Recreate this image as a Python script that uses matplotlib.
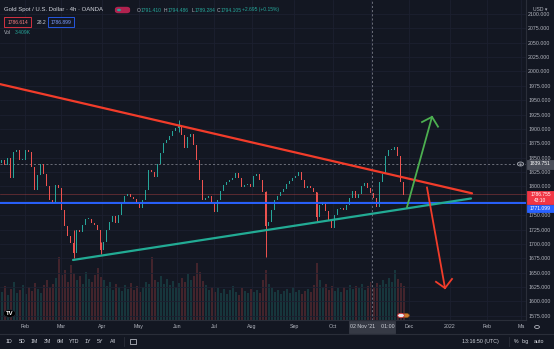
import numpy as np
import matplotlib.pyplot as plt
from matplotlib.patches import Circle, FancyBboxPatch, Rectangle

plt.rcParams['font.family'] = ['Liberation Sans', 'DejaVu Sans']

W, H = 554, 349
BG = '#131722'
UP = '#26a69a'
DOWN = '#ef5350'
TXT = '#b2b5be'

# ---- data (one candle every 3 time slots) ----
closes = [1846, 1837, 1849, 1815, 1860, 1863, 1846, 1846, 1863, 1860,
          1834, 1794, 1820, 1839, 1822, 1801, 1776, 1771, 1802, 1797,
          1759, 1731, 1714, 1702, 1684, 1724, 1721, 1733, 1743, 1743,
          1736, 1733, 1724, 1689, 1703, 1724, 1738, 1749, 1736, 1750,
          1771, 1783, 1787, 1782, 1778, 1771, 1762, 1776, 1794, 1829,
          1825, 1816, 1839, 1858, 1876, 1881, 1888, 1896, 1902, 1907,
          1890, 1867, 1886, 1891, 1872, 1846, 1811, 1776, 1780, 1783,
          1771, 1755, 1776, 1792, 1802, 1808, 1811, 1815, 1823, 1815,
          1799, 1802, 1804, 1799, 1818, 1822, 1811, 1790, 1731, 1738,
          1759, 1776, 1783, 1790, 1795, 1804, 1809, 1815, 1818, 1825,
          1811, 1797, 1801, 1797, 1790, 1747, 1768, 1773, 1757, 1742,
          1728, 1750, 1761, 1762, 1759, 1768, 1780, 1792, 1780, 1787,
          1801, 1806, 1797, 1789, 1780, 1764, 1808, 1822, 1853, 1863,
          1863, 1869, 1853, 1808, 1785]
first_open = 1840
volumes_k = [2.8, 3.4, 2.5, 3.1, 3.8, 2.7, 3.0, 3.5, 2.6, 3.3, 2.9, 3.7, 3.1, 2.7, 3.5, 4.0, 3.3,
             3.6, 4.2, 6.3, 4.5, 5.0, 3.8, 5.5, 4.7, 4.0, 4.4, 3.6, 4.8, 4.1, 3.8, 4.5, 5.2, 4.3,
             4.0, 3.4, 3.8, 3.0, 3.6, 3.3, 2.9, 3.5, 3.1, 3.7, 3.0, 3.4, 2.8, 3.3, 3.8, 3.6, 6.3,
             4.0, 3.8, 4.4, 3.6, 4.1, 3.5, 3.9, 3.3, 3.7, 4.2, 3.8, 4.6, 4.0, 4.4, 5.7, 4.8, 3.9,
             3.5, 3.0, 3.3, 2.8, 3.2, 2.7, 3.1, 2.6, 3.0, 3.4, 2.8, 2.5, 3.2, 2.9, 2.7, 3.1, 2.8,
             3.0, 2.7, 4.0, 5.0, 3.6, 3.2, 2.8, 3.0, 2.6, 2.9, 3.1, 2.7, 3.3, 2.8, 3.0, 2.6, 2.9,
             3.1, 2.8, 3.5, 5.7, 4.0, 3.3, 3.6, 3.0, 3.4, 2.9, 3.2, 2.8, 3.3, 3.0, 3.5, 3.1, 3.4,
             3.2, 3.6, 3.0, 3.4, 3.8, 3.3, 3.7, 3.5, 4.0, 3.6, 4.2, 3.8, 5.0, 4.1, 3.7, 3.4]
wick_idx = [24, 33, 59, 88, 105]
wick_low = [1676, 1682, 1895, 1677, 1740]
wick_high = [1724, 1703, 1916, 1792, 1790]

month_pos = [25, 61, 102, 139, 177, 214, 252, 294, 333, 409, 450, 487, 521]
month_lbl = ['Feb', 'Mar', 'Apr', 'May', 'Jun', 'Jul', 'Aug', 'Sep', 'Oct',
             'Dec', '2022', 'Feb', 'Ma']
nov_pos = 371
price_ticks = list(range(1575, 2101, 25))
hidden_ticks = [1775]  # covered by the price badges

red_line_x, red_line_p = [0, 472], [1978, 1788]
teal_line_x, teal_line_p = [73, 471], [1672, 1779]
up_arrow_x, up_arrow_p = [407, 432], [1764, 1921]
up_head_x, up_head_p = [422, 432, 438], [1912, 1921, 1904]
dn_arrow_x, dn_arrow_p = [427, 445], [1798, 1623]
dn_head_x, dn_head_p = [436, 445, 452], [1634, 1623, 1639]

support_level = 1771.099
last_price = 1786.755
cross_x, cross_price = 372, 1839.751


def fp(x, y):
    return x / W, 1 - y / H


fig = plt.figure(figsize=(W / 100, H / 100), dpi=100, facecolor=BG)
ax = fig.add_axes([0, 29 / H, 526 / W, 320 / H])
axv = ax.twinx()
ax.set_zorder(axv.get_zorder() + 1)
ax.patch.set_visible(False)
axv.set_ylim(0, 32)
axv.axis('off')

ax.set_xlim(0, 526)
ax.set_ylim(2100 - 306 * 1.74, 2100 + 14 * 1.74)

# grid
for xg in month_pos + [nov_pos]:
    ax.axvline(xg, color='#1c2030', lw=0.6, zorder=0)
for pg in price_ticks:
    ax.axhline(pg, color='#1c2030', lw=0.6, zorder=0)

# candles + volume
c = np.array(closes, dtype=float)
o = np.concatenate([[first_open], c[:-1]])
xs = np.arange(len(c)) * 3 + 1.5
col = [UP if cc >= oo else DOWN for oo, cc in zip(o, c)]
ax.bar(xs, np.maximum(np.abs(c - o), 1.5), bottom=np.minimum(o, c), width=1.7,
       color=col, linewidth=0, zorder=3)
ax.vlines(xs[wick_idx], wick_low, wick_high, colors=[col[i] for i in wick_idx],
          lw=0.7, zorder=3)
axv.bar(xs, volumes_k, width=2.0, color=col, alpha=0.22, linewidth=0)

# horizontal levels
ax.axhline(last_price, color=DOWN, lw=0.5, alpha=0.45, zorder=2)
ax.axhline(support_level, color='#2962ff', lw=1.4, zorder=4)
ax.axhline(cross_price, color='#787b86', lw=0.6, ls=(0, (2.5, 2.5)), zorder=2)
ax.axvline(cross_x, color='#787b86', lw=0.6, ls=(0, (2.5, 2.5)), zorder=2)

# drawings
ax.plot(red_line_x, red_line_p, color='#f23c2a', lw=1.6, zorder=5, solid_capstyle='round')
ax.plot(teal_line_x, teal_line_p, color='#22ab94', lw=1.6, zorder=5, solid_capstyle='round')
ax.plot(up_arrow_x, up_arrow_p, color='#4caf50', lw=1.3, zorder=5)
ax.plot(up_head_x, up_head_p, color='#4caf50', lw=1.3, zorder=5)
ax.plot(dn_arrow_x, dn_arrow_p, color='#f23c2a', lw=1.3, zorder=5)
ax.plot(dn_head_x, dn_head_p, color='#f23c2a', lw=1.3, zorder=5)

# axes styling
for s in ['top', 'left']:
    ax.spines[s].set_visible(False)
ax.spines['right'].set_color('#2a2e39')
ax.spines['bottom'].set_color('#2a2e39')
ax.spines['right'].set_linewidth(0.8)
ax.spines['bottom'].set_linewidth(0.8)
ax.yaxis.tick_right()
ax.set_yticks(price_ticks)
ax.set_yticklabels(['' if p in hidden_ticks else f'{p:.3f}' for p in price_ticks])
ax.set_xticks(month_pos)
ax.set_xticklabels(month_lbl)
ax.tick_params(axis='y', length=0, pad=1.5, labelsize=3.8, labelcolor=TXT)
ax.tick_params(axis='x', length=0, pad=2.6, labelsize=3.8, labelcolor=TXT)


def badge(x0, y0, x1, y1, face, lines, tcol='white', edge=None, size=3.8):
    fx0, fy0 = fp(x0, y1)
    fig.patches.append(Rectangle((fx0, fy0), (x1 - x0) / W, (y1 - y0) / H,
                                 transform=fig.transFigure, facecolor=face,
                                 edgecolor=edge or face, lw=0.6, zorder=5))
    for (tx, ty, t) in lines:
        fig.text(*fp(tx, ty), t, color=tcol, fontsize=size, ha='center',
                 va='center', zorder=6)


badge(527, 191, 554, 204, '#f23645', [(540.5, 194.6, '1786.755'), (540.5, 200.6, '43:10')],
      size=3.5)
badge(527, 204.5, 554, 212, '#2962ff', [(540.5, 208.3, '1771.099')], size=3.6)
badge(527, 159.5, 554, 168.5, '#4a4e59', [(540.5, 164, '1839.751')], size=3.6)
badge(349, 321, 395, 333, '#363a45', [(372, 327, "02 Nov '21    01:00")], tcol='#d1d4dc')
fig.patches.append(Circle(fp(520.5, 164), 3.2 / W, transform=fig.transFigure,
                          facecolor='#363a45', edgecolor='#b2b5be', lw=0.5, zorder=5))
fig.text(*fp(520.5, 164.2), '+', color='#d1d4dc', fontsize=4, ha='center', va='center', zorder=6)

# header
fig.text(*fp(4, 10), 'Gold Spot / U.S. Dollar · 4h · OANDA', color='#d1d4dc',
         fontsize=4.3, va='center')
fig.patches.append(FancyBboxPatch(fp(116, 12.5), 13 / W, 5 / H,
                                  boxstyle='round,pad=0.002,rounding_size=0.006',
                                  transform=fig.transFigure, facecolor='#b0224f',
                                  edgecolor='none', zorder=5))
fig.patches.append(Circle(fp(119, 10), 2 / W, transform=fig.transFigure,
                          facecolor=UP, edgecolor='none', zorder=6))
ohlc = [(137, 'O', '1791.410'), (164, 'H', '1794.486'), (191.5, 'L', '1789.284'),
        (217, 'C', '1794.105')]
for x0, k, v in ohlc:
    fig.text(*fp(x0, 10), k, color=TXT, fontsize=3.6, va='center')
    fig.text(*fp(x0 + 3.3, 10), v, color=UP, fontsize=3.6, va='center')
fig.text(*fp(242, 10), '+2.695 (+0.15%)', color=UP, fontsize=3.6, va='center')

badge(4, 17, 31, 27, '#131722', [(17.5, 22, '1786.614')], tcol='#f77c80', edge='#f23645',
      size=3.6)
fig.text(*fp(37, 22), '28.2', color='#d1d4dc', fontsize=3.6, va='center')
badge(48, 17, 74, 27, '#131722', [(61, 22, '1786.899')], tcol='#7e9dff', edge='#2962ff',
      size=3.6)
fig.text(*fp(4, 33), 'Vol', color=TXT, fontsize=3.6, va='center')
fig.text(*fp(15, 33), '3.409K', color=UP, fontsize=3.6, va='center')

fig.text(*fp(540, 9.5), 'USD ▾', color=TXT, fontsize=3.6, ha='center', va='center')

# logo and event icons
fig.patches.append(Circle(fp(9.5, 313.5), 6 / W, transform=fig.transFigure,
                          facecolor='#000000', edgecolor='#2a2e39', lw=0.4, zorder=5))
fig.text(*fp(9.5, 313.5), 'TV', color='white', fontsize=4.2, fontweight='bold',
         ha='center', va='center', zorder=6)
fig.patches.append(Circle(fp(406, 315.5), 3.4 / W, transform=fig.transFigure,
                          facecolor='#c97a2c', edgecolor='#8a4a1a', lw=0.4, zorder=5))
fig.patches.append(Circle(fp(401, 315.5), 3.4 / W, transform=fig.transFigure,
                          facecolor='#e8e8f0', edgecolor='#d03030', lw=0.6, zorder=6))

# gear on time axis
fig.patches.append(Circle(fp(537, 327), 2.4 / W, transform=fig.transFigure,
                          facecolor='none', edgecolor=TXT, lw=0.6, zorder=5))

# bottom toolbar
fig.lines.append(plt.Line2D([0, 1], [1 - 334 / H] * 2, transform=fig.transFigure,
                            color='#2a2e39', lw=0.8))
ranges = [(9, '1D'), (22, '5D'), (34.5, '1M'), (47, '3M'), (60, '6M'), (74.5, 'YTD'),
          (88, '1Y'), (100.5, '5Y'), (113, 'All')]
for x0, t in ranges:
    fig.text(*fp(x0, 341.5), t, color='#d1d4dc', fontsize=3.8, ha='center', va='center')
fig.lines.append(plt.Line2D([124 / W] * 2, [1 - 337 / H, 1 - 346 / H],
                            transform=fig.transFigure, color='#2a2e39', lw=0.6))
fig.patches.append(Rectangle(fp(130, 344), 6 / W, 5 / H, transform=fig.transFigure,
                             facecolor='none', edgecolor='#d1d4dc', lw=0.5))
fig.text(*fp(480.5, 341.5), '13:16:50 (UTC)', color='#d1d4dc', fontsize=3.8,
         ha='center', va='center')
fig.lines.append(plt.Line2D([509 / W] * 2, [1 - 337 / H, 1 - 346 / H],
                            transform=fig.transFigure, color='#2a2e39', lw=0.6))
for x0, t in [(516.5, '%'), (525.5, 'log'), (538.5, 'auto')]:
    fig.text(*fp(x0, 341.5), t, color='#d1d4dc', fontsize=3.8, ha='center', va='center')

fig.savefig('out.png', dpi=100, facecolor=BG)
